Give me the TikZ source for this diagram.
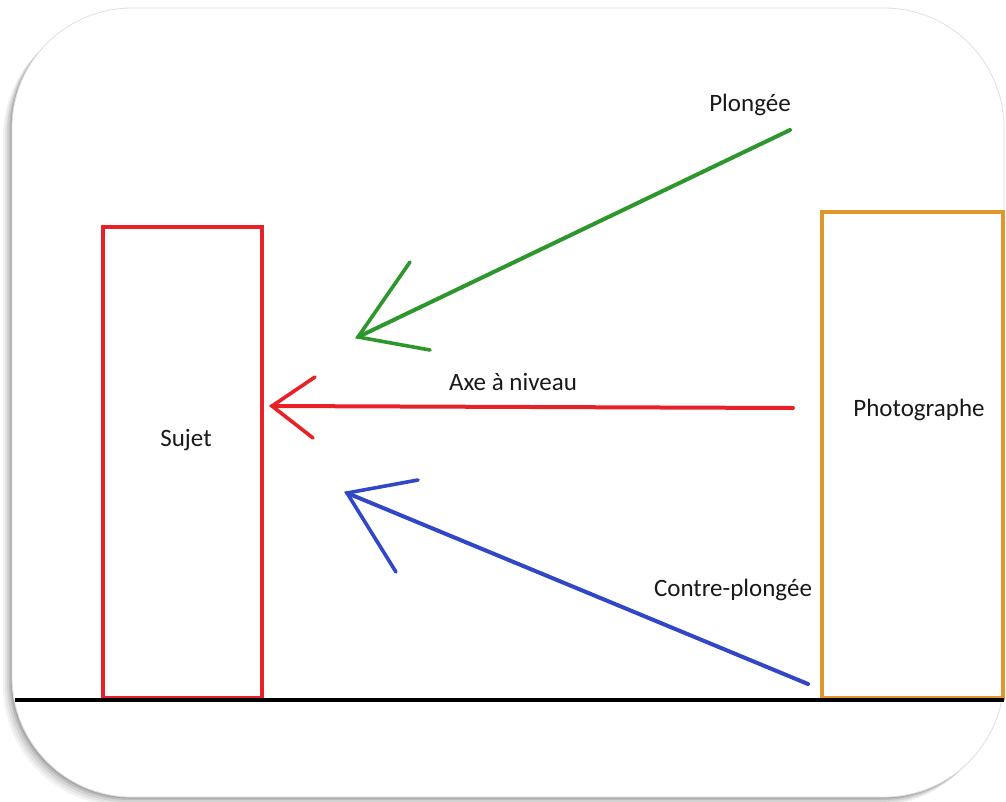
\documentclass[tikz,border=0pt]{standalone}
\usepackage{fontspec}
\setmainfont{Carlito}
\definecolor{cred}{RGB}{232,32,40}
\definecolor{cgreen}{RGB}{45,150,45}
\definecolor{cblue}{RGB}{50,70,200}
\definecolor{corange}{RGB}{222,150,45}
\begin{document}
\begin{tikzpicture}[x=1pt,y=-1pt,
  box/.style={draw,line width=3.2pt,rectangle,inner sep=0pt},
  lbl/.style={font=\fontsize{25}{28}\selectfont,text=black!90,inner sep=0pt},
  shaft/.style={line width=4pt,line cap=round},
  barb/.style={line width=3.6pt,line cap=round}]
\useasboundingbox (0,0) rectangle (1006,801);
% frame shadow
\foreach \i/\o in {9/0.05,7/0.06,5/0.08,3/0.1,1.5/0.12}{
  \fill[black,opacity=\o,rounded corners=120pt] ({12-\i},{8+\i}) rectangle ({1004-\i},{797+\i});
}
\fill[white,rounded corners=120pt] (12,8) rectangle (1004,797);
\draw[black!12,line width=0.8pt,rounded corners=120pt] (12,8) rectangle (1004,797);
% boxes
\node[box,draw=cred,minimum width=159pt,minimum height=471pt] (sujet) at (182.5,462.5) {};
\node[box,draw=corange,minimum width=181pt,minimum height=486pt] (photo) at (912.5,455) {};
% ground
\coordinate (g1) at (15,700);
\coordinate (g2) at (1004,700);
\draw[line width=4pt] (g1) -- (g2);
% labels
\node[lbl] (tsujet) at (186,440) {Sujet};
\node[lbl] (tphoto) at (919,410) {Photographe};
\node[lbl] (tplong) at (750,105) {Plongée};
\node[lbl] (tniveau) at (513,382) {Axe à niveau};
\node[lbl] (tcontre) at (733,590) {Contre-plongée};
% green arrow
\coordinate (gs) at (790,130);
\coordinate (gt) at (358,337);
\coordinate (gb1) at (410,262);
\coordinate (gb2) at (430,350);
\draw[cgreen,shaft] (gs) -- (gt);
\draw[cgreen,barb] (gb1) -- (gt) -- (gb2);
% red arrow
\coordinate (rs) at (793,408);
\coordinate (rt) at (272,406);
\coordinate (rb1) at (315,377);
\coordinate (rb2) at (313,438);
\draw[cred,shaft] (rs) -- (rt);
\draw[cred,barb] (rb1) -- (rt) -- (rb2);
% blue arrow
\coordinate (bs) at (808,684);
\coordinate (bt) at (347,493);
\coordinate (bb1) at (418,480);
\coordinate (bb2) at (396,572);
\draw[cblue,shaft] (bs) -- (bt);
\draw[cblue,barb] (bb1) -- (bt) -- (bb2);
\end{tikzpicture}
\end{document}
